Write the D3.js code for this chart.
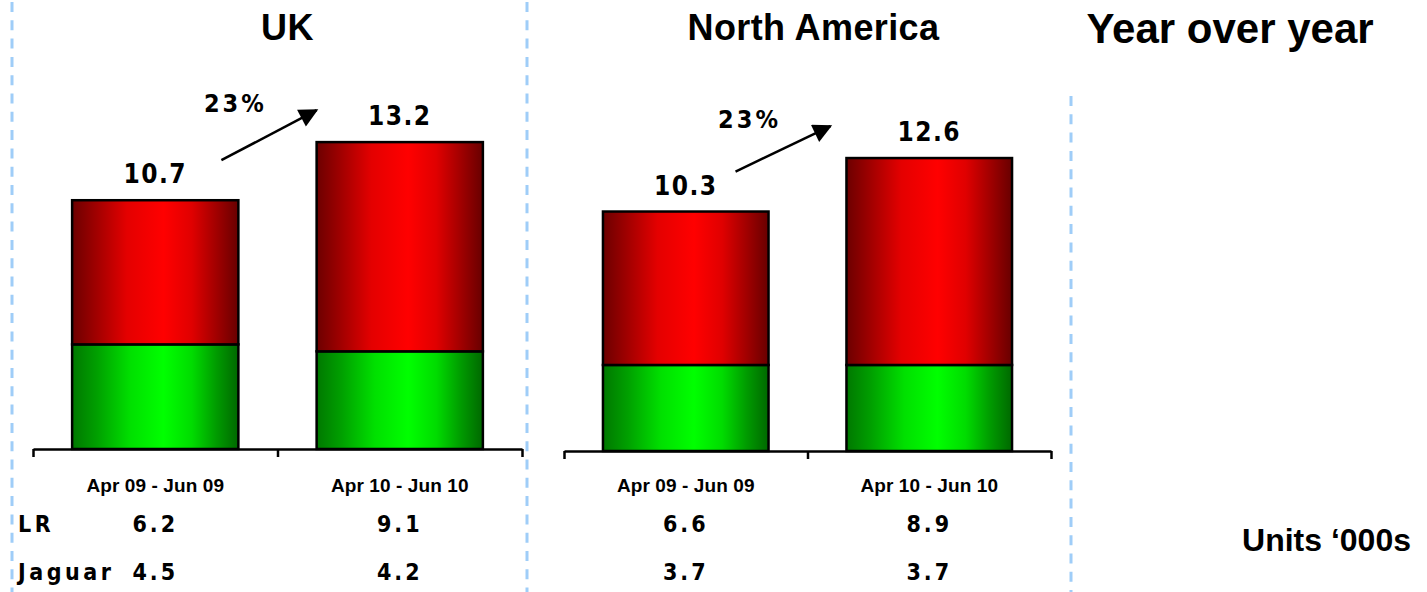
<!DOCTYPE html>
<html>
<head>
<meta charset="utf-8">
<script src="https://cdn.jsdelivr.net/npm/d3@7"></script>
<style>
  html, body { margin: 0; padding: 0; background: #fff; }
  svg { display: block; }
</style>
</head>
<body>
<svg id="chart" width="1427" height="592"></svg>
<script>
// ---------------- data ----------------
const regions = ["UK", "North America"];
const periods = ["Apr 09 - Jun 09", "Apr 10 - Jun 10"];
const rowLabels = ["LR", "Jaguar"];
const lrUK = [6.2, 9.1];
const jaguarUK = [4.5, 4.2];
const totalUK = [10.7, 13.2];
const lrNA = [6.6, 8.9];
const jaguarNA = [3.7, 3.7];
const totalNA = [10.3, 12.6];
const growthUK = "23%";
const growthNA = "23%";
const sideTitle = "Year over year";
const unitsLabel = "Units \u2018000s";

// ---------------- layout ----------------
const W = 1427, H = 592;
const svg = d3.select("#chart");
const pxPerUnit = 23.25;
const numFont = "'DejaVu Sans', Verdana, sans-serif";
const txtFont = "'Liberation Sans', Arial, sans-serif";

const panels = [
  { title: regions[0], lr: lrUK, jag: jaguarUK, tot: totalUK, growth: growthUK,
    x0: 33, x1: 522, y0: 449, startDx: -17, tipDx: 0, titleDx: 10 },
  { title: regions[1], lr: lrNA, jag: jaguarNA, tot: totalNA, growth: growthNA,
    x0: 564, x1: 1051, y0: 451, startDx: -33, tipDx: -16, titleDx: 6 }
];

// gradients
const defs = svg.append("defs");
function grad(id, stops) {
  const g = defs.append("linearGradient").attr("id", id)
    .attr("x1", "0%").attr("x2", "100%").attr("y1", "0%").attr("y2", "0%");
  stops.forEach(([o, c]) => g.append("stop").attr("offset", o).attr("stop-color", c));
}
grad("redGrad", [[0, "#6c0000"], [0.15, "#a20000"], [0.33, "#e40000"], [0.55, "#ff0000"],
                 [0.72, "#e00000"], [0.87, "#a00000"], [1, "#680000"]]);
grad("greenGrad", [[0, "#007800"], [0.15, "#00a000"], [0.35, "#00e000"], [0.55, "#00ff00"],
                   [0.72, "#00dc00"], [0.87, "#009a00"], [1, "#006800"]]);

defs.append("marker").attr("id", "arrowHead")
  .attr("viewBox", "0 0 10 10").attr("refX", 9).attr("refY", 5)
  .attr("markerUnits", "userSpaceOnUse").attr("markerWidth", 21).attr("markerHeight", 19)
  .attr("orient", "auto")
  .append("path").attr("d", "M0,0 L10,5 L0,10 z").attr("fill", "#000");

// dashed separators
function dashed(x, yStart) {
  svg.append("line").attr("x1", x).attr("x2", x).attr("y1", yStart).attr("y2", H)
    .attr("stroke", "#9fcdf8").attr("stroke-width", 3)
    .attr("stroke-dasharray", "10 8.3").attr("stroke-dashoffset", 16.3);
}
dashed(12, 0);
dashed(527, 0);
dashed(1071, 94);

panels.forEach(p => {
  const g = svg.append("g");
  const x = d3.scaleBand().domain(periods).range([p.x0, p.x1])
    .paddingInner(0.32).paddingOuter(0.16);
  const y = d3.scaleLinear().domain([0, 15]).range([p.y0, p.y0 - 15 * pxPerUnit]);
  const bw = x.bandwidth();

  // title
  g.append("text").attr("x", (p.x0 + p.x1) / 2 + p.titleDx).attr("y", 39.5)
    .attr("text-anchor", "middle").attr("font-family", txtFont)
    .attr("font-weight", "bold").attr("font-size", 36).attr("letter-spacing", 0.4).text(p.title);

  // bars: Jaguar (bottom), LR (top up to total)
  g.selectAll("rect.jag").data(periods).join("rect").attr("class", "jag")
    .attr("x", d => x(d)).attr("width", bw)
    .attr("y", (d, i) => y(p.jag[i])).attr("height", (d, i) => y(0) - y(p.jag[i]))
    .attr("fill", "url(#greenGrad)").attr("stroke", "#000").attr("stroke-width", 2.5);
  g.selectAll("rect.lr").data(periods).join("rect").attr("class", "lr")
    .attr("x", d => x(d)).attr("width", bw)
    .attr("y", (d, i) => y(p.tot[i])).attr("height", (d, i) => y(p.jag[i]) - y(p.tot[i]))
    .attr("fill", "url(#redGrad)").attr("stroke", "#000").attr("stroke-width", 2.5);

  // totals
  g.selectAll("text.tot").data(periods).join("text").attr("class", "tot")
    .attr("x", d => x(d) + bw / 2).attr("y", (d, i) => y(p.tot[i]) - 17)
    .attr("text-anchor", "middle").attr("font-family", numFont)
    .attr("font-stretch", "condensed").attr("letter-spacing", 1.5)
    .attr("font-weight", "bold").attr("font-size", 26).text((d, i) => p.tot[i].toFixed(1));

  // growth arrow
  const sx = x(periods[0]) + bw + p.startDx, sy = y(p.tot[0]) - 40;
  const tx = x(periods[1]) + p.tipDx, ty = y(p.tot[1]) - 32;
  g.append("line").attr("x1", sx).attr("y1", sy).attr("x2", tx).attr("y2", ty)
    .attr("stroke", "#000").attr("stroke-width", 2.5).attr("marker-end", "url(#arrowHead)");
  g.append("text").attr("x", sx + 14).attr("y", ty + 2).attr("text-anchor", "middle")
    .attr("font-family", numFont).attr("font-stretch", "condensed").attr("letter-spacing", 3)
    .attr("font-weight", "bold").attr("font-size", 25).text(p.growth);

  // axis with ticks between categories
  const tickScale = d3.scaleLinear().domain([0, periods.length]).range([p.x0, p.x1]);
  const ax = g.append("g").attr("transform", `translate(0,${p.y0})`)
    .call(d3.axisBottom(tickScale).tickValues(d3.range(periods.length + 1))
      .tickSize(8).tickSizeOuter(0).tickFormat(""));
  ax.select(".domain").attr("stroke", "#000").attr("stroke-width", 2.5);
  ax.selectAll(".tick line").attr("stroke", "#000").attr("stroke-width", 2.5);

  // category labels
  g.selectAll("text.cat").data(periods).join("text").attr("class", "cat")
    .attr("x", d => x(d) + bw / 2).attr("y", 492).attr("text-anchor", "middle")
    .attr("font-family", txtFont).attr("font-weight", "bold").attr("font-size", 19)
    .attr("letter-spacing", 0.1).text(d => d);

  // table rows
  const rows = [p.lr, p.jag];
  const rowY = [532, 580];
  rows.forEach((vals, r) => {
    g.selectAll("text.row" + r).data(periods).join("text").attr("class", "row" + r)
      .attr("x", d => x(d) + bw / 2).attr("y", rowY[r]).attr("text-anchor", "middle")
      .attr("font-family", numFont).attr("font-stretch", "condensed").attr("letter-spacing", 3)
      .attr("font-weight", "bold").attr("font-size", 23).text((d, i) => vals[i].toFixed(1));
  });
});

// row labels
svg.selectAll("text.rowlab").data(rowLabels).join("text").attr("class", "rowlab")
  .attr("x", 18).attr("y", (d, i) => [532, 580][i])
  .attr("font-family", numFont).attr("font-stretch", "condensed").attr("letter-spacing", 3.5)
  .attr("font-weight", "bold").attr("font-size", 23).text(d => d);

// side texts
svg.append("text").attr("x", 1230).attr("y", 43).attr("text-anchor", "middle")
  .attr("font-family", txtFont).attr("font-weight", "bold").attr("font-size", 42).text(sideTitle);
svg.append("text").attr("x", 1411).attr("y", 551).attr("text-anchor", "end")
  .attr("font-family", txtFont).attr("font-weight", "bold").attr("font-size", 32).text(unitsLabel);
</script>
</body>
</html>
